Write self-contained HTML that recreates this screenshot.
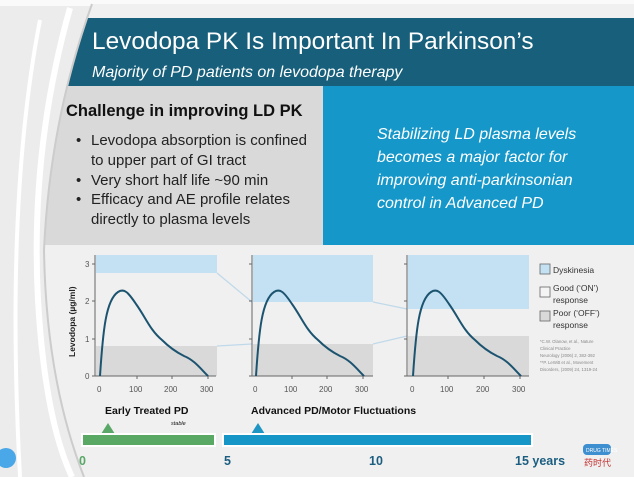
<!DOCTYPE html>
<html><head><meta charset="utf-8"><style>
body{margin:0;width:634px;height:477px;overflow:hidden;background:#e8e8e8;font-family:"Liberation Sans",sans-serif}
svg{display:block}
text{font-family:"Liberation Sans","Noto Sans CJK SC",sans-serif}
</style></head><body>
<svg width="634" height="477" viewBox="0 0 634 477">
<defs>
<clipPath id="pan"><path d="M92,4 Q50,120 44,250 Q46,380 84,477 L634,477 L634,4 Z"/></clipPath>
</defs>
<rect width="634" height="477" fill="#ececec"/>
<rect width="634" height="6" fill="#fafafa"/>
<path d="M40,20 Q5,200 20,477" stroke="#fff" stroke-width="4" fill="none"/>
<path d="M70,8 Q30,150 38,300 Q45,420 72,477" stroke="#fff" stroke-width="6" fill="none"/>
<g clip-path="url(#pan)">
<rect x="0" y="4" width="634" height="473" fill="#f0f0f0"/>
<rect x="0" y="18" width="634" height="68" fill="#175f7a"/>
<rect x="0" y="86" width="323" height="159" fill="#d9d9d9"/>
<rect x="323" y="86" width="311" height="159" fill="#1597c9"/>
</g>
<path d="M92,4 Q50,120 44,250 Q46,380 84,477" stroke="#ccc" stroke-width="2" fill="none"/>
<text x="92" y="49" fill="#fff" font-size="24.4">Levodopa PK Is Important In Parkinson’s</text>
<text x="92" y="77" fill="#fff" font-size="16" font-style="italic">Majority of PD patients on levodopa therapy</text>
<text x="66" y="116" fill="#111" font-size="16.5" font-weight="bold">Challenge in improving LD PK</text>
<g fill="#222" font-size="15">
<text x="76" y="145">•</text><text x="91" y="145">Levodopa absorption is confined</text>
<text x="91" y="165">to upper part of GI tract</text>
<text x="76" y="185">•</text><text x="91" y="185">Very short half life ~90 min</text>
<text x="76" y="204">•</text><text x="91" y="204">Efficacy and AE profile relates</text>
<text x="91" y="224">directly to plasma levels</text>
</g>
<g fill="#fff" font-size="16" font-style="italic">
<text x="377" y="139">Stabilizing LD plasma levels</text>
<text x="377" y="162">becomes a major factor for</text>
<text x="377" y="185">improving anti-parkinsonian</text>
<text x="377" y="208">control in Advanced PD</text>
</g>
<g stroke="#bfd9ea" stroke-width="1.2" fill="none">
<line x1="217" y1="273" x2="252" y2="302"/><line x1="217" y1="346" x2="252" y2="344"/>
<line x1="373" y1="302" x2="407" y2="309"/><line x1="373" y1="344" x2="407" y2="336"/>
</g>
<rect x="96" y="255" width="121" height="18" fill="#c4e1f4"/>
<rect x="96" y="346" width="121" height="30" fill="#d9d9d9"/>
<rect x="253" y="255" width="120" height="47" fill="#c4e1f4"/>
<rect x="253" y="344" width="120" height="32" fill="#d9d9d9"/>
<rect x="408" y="255" width="121" height="54" fill="#c4e1f4"/>
<rect x="408" y="336" width="121" height="40" fill="#d9d9d9"/>
<g stroke="#666" stroke-width="1" fill="none">
<path d="M95,255 V376 H216 M92,264 H95 M92,301 H95 M92,339 H95 M92,376 H95 M137,376 v3 M172,376 v3 M208,376 v3"/>
<path d="M252,255 V376 H373 M249,264 H252 M249,301 H252 M249,339 H252 M249,376 H252 M292,376 v3 M327,376 v3 M363,376 v3"/>
<path d="M407,255 V376 H529 M404,264 H407 M404,301 H407 M404,339 H407 M404,376 H407 M448,376 v3 M484,376 v3 M520,376 v3"/>
</g>
<g fill="#555" font-size="8">
<text x="85" y="267">3</text><text x="85" y="304">2</text><text x="85" y="342">1</text><text x="85" y="379">0</text>
<text x="97" y="392">0</text><text x="129" y="392">100</text><text x="164" y="392">200</text><text x="200" y="392">300</text>
<text x="253" y="392">0</text><text x="284" y="392">100</text><text x="319" y="392">200</text><text x="355" y="392">300</text>
<text x="410" y="392">0</text><text x="440" y="392">100</text><text x="476" y="392">200</text><text x="512" y="392">300</text>
</g>
<text transform="translate(75,357) rotate(-90)" fill="#222" font-size="8.5" font-weight="bold">Levodopa (µg/ml)</text>
<g fill="none" stroke="#1c5470" stroke-width="2">
<path id="c1" d="M100,376 C103,330 106,300 118,292 C124,288 128,292 136,304 C146,318 150,330 162,340 C170,348 176,352 184,356 C194,360 200,368 208,376"/>
<use href="#c1" x="156"/>
<use href="#c1" x="313"/>
</g>
<rect x="540" y="264" width="10" height="10" fill="#c4e1f4" stroke="#666" stroke-width="0.8"/>
<text x="553" y="273" fill="#333" font-size="8.5">Dyskinesia</text>
<rect x="540" y="287" width="10" height="10" fill="#f4f4f4" stroke="#666" stroke-width="0.8"/>
<text x="553" y="291" fill="#333" font-size="8.5">Good (‘ON’)</text><text x="553" y="303" fill="#333" font-size="8.5">response</text>
<rect x="540" y="311" width="10" height="10" fill="#d9d9d9" stroke="#666" stroke-width="0.8"/>
<text x="553" y="316" fill="#333" font-size="8.5">Poor (‘OFF’)</text><text x="553" y="328" fill="#333" font-size="8.5">response</text>
<g fill="#888" font-size="4.3">
<text x="540" y="343">*C.W. Olanow, et al., Nature</text><text x="540" y="350">Clinical Practice</text>
<text x="540" y="357">Neurology (2006) 2, 382-392</text><text x="540" y="364">**P. LeWitt et al., Movement</text>
<text x="540" y="371">Disorders, (2009) 24, 1319-24</text>
</g>
<text x="105" y="414" fill="#111" font-size="10.5" font-weight="bold">Early Treated PD</text>
<text x="171" y="425" fill="#111" font-size="5.5" font-style="italic">stable</text>
<text x="251" y="414" fill="#111" font-size="10.5" font-weight="bold">Advanced PD/Motor Fluctuations</text>
<polygon points="101,434 108,423 115,434" fill="#5aa867"/>
<polygon points="251,434 258,423 265,434" fill="#1f95c4"/>
<rect x="81" y="433" width="135" height="14" fill="#fff"/>
<rect x="83" y="435" width="131" height="10" fill="#59a864"/>
<rect x="222" y="433" width="311" height="14" fill="#fff"/>
<rect x="224" y="435" width="307" height="10" fill="#1596c6"/>
<g font-size="12.5" font-weight="bold">
<text x="79" y="465" fill="#5aa867">0</text>
<text x="224" y="465" fill="#1c5e80">5</text>
<text x="369" y="465" fill="#1c5e80">10</text>
<text x="515" y="465" fill="#1c5e80">15 years</text>
</g>
<rect x="583" y="444" width="28" height="11" rx="4" fill="#3d8fd0"/>
<text x="586" y="452" fill="#fff" font-size="5">DRUG TIMES</text>
<text x="584" y="466" fill="#c43030" font-size="9">药时代</text>
<circle cx="6" cy="458" r="10" fill="#4aa8e8"/>
</svg>
</body></html>
